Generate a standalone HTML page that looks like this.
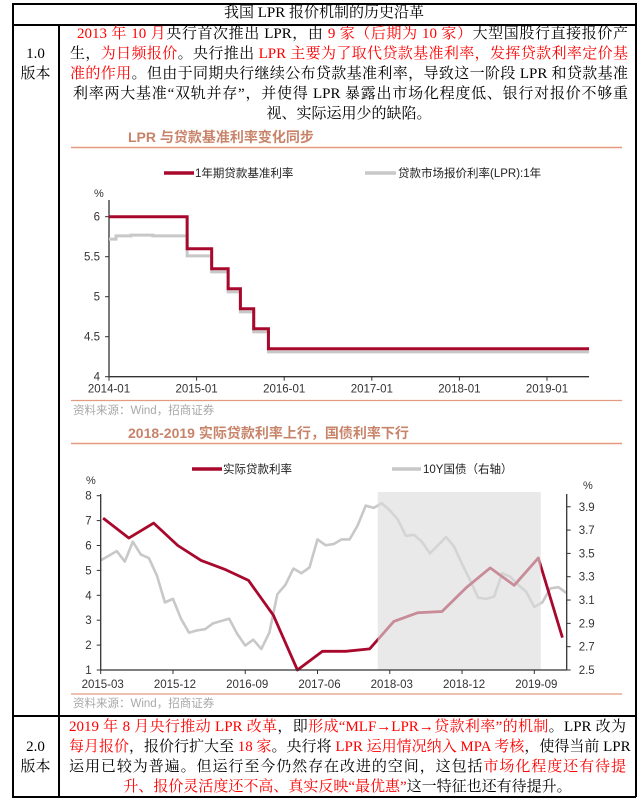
<!DOCTYPE html>
<html><head><meta charset="utf-8">
<style>
*{margin:0;padding:0;box-sizing:border-box}
body{width:644px;height:801px;background:#fff;position:relative;overflow:hidden;font-family:"Liberation Serif","Noto Serif CJK SC",serif;color:#000}
.abs{position:absolute}
.ln{position:absolute;height:20px;line-height:20px;font-size:15px;white-space:nowrap;text-align:justify;text-align-last:justify}
.r{color:#f00}
.hl{position:absolute;background:#000}
svg{position:absolute;left:0;top:0}
svg text{font-family:"Liberation Sans","Noto Sans CJK SC",sans-serif}
</style></head><body>
<!-- table frame -->
<div class="hl" style="left:12px;top:3px;width:624px;height:1.5px"></div>
<div class="hl" style="left:12px;top:3px;width:1.5px;height:794px"></div>
<div class="hl" style="left:635px;top:3px;width:1.5px;height:794px"></div>
<div class="hl" style="left:12px;top:796px;width:624px;height:1.5px"></div>
<div class="hl" style="left:12px;top:24px;width:624px;height:1.5px"></div>
<div class="hl" style="left:58px;top:24px;width:1.5px;height:773px"></div>
<div class="hl" style="left:12px;top:715px;width:624px;height:1.5px"></div>

<div class="abs" style="left:12px;top:3px;width:624px;height:21px;line-height:21px;text-align:center;font-size:15px">我国 LPR 报价机制的历史沿革</div>

<div class="abs" style="left:13px;top:44px;width:45px;text-align:center;font-size:15px;line-height:20px">1.0<br>版本</div>
<div class="abs" style="left:13px;top:737px;width:45px;text-align:center;font-size:15px;line-height:20px">2.0<br>版本</div>

<div>
<div class="ln" style="left:77px;top:24px;width:551px"><span class="r">2013 年 10 月</span>央行首次推出 LPR，由 <span class="r">9 家（后期为 10 家）</span>大型国股行直接报价产</div>
<div class="ln" style="left:70px;top:44px;width:558px">生，<span class="r">为日频报价</span>。央行推出 <span class="r">LPR 主要为了取代贷款基准利率，发挥贷款利率定价基</span></div>
<div class="ln" style="left:70px;top:64px;width:558px"><span class="r">准的作用</span>。但由于同期央行继续公布贷款基准利率，导致这一阶段 LPR 和贷款基准</div>
<div class="ln" style="left:73px;top:84px;width:555px">利率两大基准“双轨并存”，并使得 LPR 暴露出市场化程度低、银行对报价不够重</div>
<div class="ln" style="left:70px;top:104px;width:558px;text-align:center;text-align-last:center">视、实际运用少的缺陷。</div>
</div>

<div>
<div class="ln" style="left:69px;top:717px;width:557px"><span class="r">2019 年 8 月央行推动 LPR 改革</span>，即<span class="r">形成“MLF→LPR→贷款利率”的机制</span>。LPR 改为</div>
<div class="ln" style="left:69px;top:737px;width:557px"><span class="r">每月报价</span>，报价行扩大至 <span class="r">18 家</span>。央行将 <span class="r">LPR 运用情况纳入 MPA 考核</span>，使得当前 LPR</div>
<div class="ln" style="left:69px;top:757px;width:557px">运用已较为普遍。但运行至今仍然存在改进的空间，这包括<span class="r">市场化程度还有待提</span></div>
<div class="ln" style="left:69px;top:777px;width:557px;text-align:center;text-align-last:center"><span class="r">升、报价灵活度还不高、真实反映“最优惠”</span>这一特征也还有待提升。</div>
</div>

<svg id="chart" width="644" height="801">
  <!-- chart 1 header -->
  <text x="128" y="142" font-size="14" font-weight="bold" fill="#c8846a">LPR 与贷款基准利率变化同步</text>
  <line x1="71" y1="147.5" x2="622" y2="147.5" stroke="#e39a80" stroke-width="1.5"/>
  <line x1="164" y1="173" x2="194" y2="173" stroke="#a8082c" stroke-width="3.5"/>
  <text x="195" y="177" font-size="11.5" fill="#222">1年期贷款基准利率</text>
  <line x1="365" y1="173" x2="396" y2="173" stroke="#c8c8c8" stroke-width="3.5"/>
  <text x="398" y="177" font-size="11.5" fill="#222">贷款市场报价利率(LPR):1年</text>
  <text x="94" y="197" font-size="11" fill="#333">%</text>
  <g id="c1"></g>
  <line x1="71" y1="400.5" x2="622" y2="400.5" stroke="#e39a80" stroke-width="1.2"/>
  <text x="73" y="414" font-size="11.5" fill="#a8a8a8">资料来源：Wind，招商证券</text>

  <!-- chart 2 header -->
  <text x="128" y="438" font-size="14" font-weight="bold" fill="#c8846a">2018-2019 实际贷款利率上行，国债利率下行</text>
  <line x1="71" y1="443.5" x2="622" y2="443.5" stroke="#e39a80" stroke-width="1.5"/>
  <line x1="192" y1="469" x2="222" y2="469" stroke="#a8082c" stroke-width="3.5"/>
  <text x="223" y="473" font-size="11.5" fill="#222">实际贷款利率</text>
  <line x1="392" y1="469" x2="421" y2="469" stroke="#c8c8c8" stroke-width="3.5"/>
  <text x="423" y="473" font-size="11.5" fill="#222">10Y国债（右轴）</text>
  <text x="86" y="484" font-size="11" fill="#333">%</text>
  <text x="583" y="489" font-size="11" fill="#333">%</text>
  <g id="c2"></g>
  <line x1="71" y1="694" x2="622" y2="694" stroke="#e39a80" stroke-width="1.2"/>
  <text x="73" y="707" font-size="11.5" fill="#a8a8a8">资料来源：Wind，招商证券</text>
</svg>

<script>
// ---- Chart 1 data (years since 2014-01) ----
const c1XTicks = [0, 1, 2, 3, 4, 5];
const c1XTickLabels = ["2014-01", "2015-01", "2016-01", "2017-01", "2018-01", "2019-01"];
const c1YTicks = [4, 4.5, 5, 5.5, 6];
const c1YTickLabels = ["4", "4.5", "5", "5.5", "6"];
const c1End = 5.48;
const benchTimes = [0, 0.892, 1.172, 1.36, 1.5, 1.652, 1.82];
const benchVals = [6.0, 5.6, 5.35, 5.1, 4.85, 4.6, 4.35];
const lprTimes = [0, 0.08, 0.25, 0.5, 0.892, 1.172, 1.36, 1.5, 1.652, 1.82];
const lprVals = [5.72, 5.76, 5.77, 5.76, 5.51, 5.31, 5.06, 4.81, 4.56, 4.31];

// ---- Chart 2 data (months since 2015-03) ----
const c2XTicks = [0, 9, 18, 27, 36, 45, 54];
const c2XTickLabels = ["2015-03", "2015-12", "2016-09", "2017-06", "2018-03", "2018-12", "2019-09"];
const c2LeftTicks = [1, 2, 3, 4, 5, 6, 7, 8];
const c2RightTicks = [2.5, 2.7, 2.9, 3.1, 3.3, 3.5, 3.7, 3.9];
const c2RightTickLabels = ["2.5", "2.7", "2.9", "3.1", "3.3", "3.5", "3.7", "3.9"];
const loanMonths = [0.3, 3.5, 6.6, 9.6, 12.5, 15.4, 18.4, 21.5, 24.5, 27.6, 30.5, 33.5, 36.5, 39.5, 42.5, 45.5, 48.5, 51.5, 54.5, 57.5];
const loanVals = [7.1, 6.3, 6.9, 6.0, 5.4, 5.05, 4.6, 3.2, 1.0, 1.75, 1.75, 1.85, 2.95, 3.3, 3.35, 4.3, 5.1, 4.4, 5.5, 2.3];
const bondVals = [3.44,3.48,3.52,3.43,3.60,3.49,3.46,3.31,3.08,3.11,2.94,2.82,2.84,2.85,2.90,2.92,2.94,2.81,2.71,2.76,2.68,2.82,3.15,3.23,3.37,3.33,3.38,3.62,3.57,3.58,3.62,3.62,3.74,3.91,3.89,3.93,3.87,3.79,3.65,3.66,3.60,3.50,3.57,3.64,3.56,3.41,3.27,3.12,3.11,3.13,3.33,3.30,3.23,3.17,3.04,3.08,3.20,3.21,3.16];
const shadeStart = 34.5, shadeEnd = 54.8;

const NS = "http://www.w3.org/2000/svg";
function mk(parent, tag, attrs) {
  const e = document.createElementNS(NS, tag);
  for (const k in attrs) e.setAttribute(k, attrs[k]);
  parent.appendChild(e);
  return e;
}

// ---- Chart 1 ----
(function () {
  const g = document.getElementById("c1");
  const x = t => 109 + t * 87.6;
  const y = v => 376.7 - (v - 4) * 80;
  // axes
  let ax = mk(g, "line", {x1: x(0), y1: 200, x2: x(0), y2: y(4), stroke: "#333", "stroke-width": 1.3});
  
  
  ax = mk(g, "line", {x1: x(0), y1: y(4), x2: x(c1End), y2: y(4), stroke: "#333", "stroke-width": 1.3});
  
  
  c1YTicks.forEach((v, i) => {
    const tk = mk(g, "line", {x1: x(0) - 4, y1: y(v), x2: x(0), y2: y(v), stroke: "#333", "stroke-width": 1});
    
    
    const t = mk(g, "text", {x: x(0) - 9, y: y(v) + 4, "font-size": 11.5, fill: "#333", "text-anchor": "end"});
    t.textContent = c1YTickLabels[i];
    
    
  });
  c1XTicks.forEach((v, i) => {
    const tk = mk(g, "line", {x1: x(v), y1: y(4), x2: x(v), y2: y(4) + 4, stroke: "#333", "stroke-width": 1});
    
    
    const t = mk(g, "text", {x: x(v), y: y(4) + 16, "font-size": 11.5, fill: "#333", "text-anchor": "middle"});
    t.textContent = c1XTickLabels[i];
    
    
  });
  function stepPath(times, vals) {
    let d = "";
    for (let i = 0; i < times.length; i++) {
      const x0 = x(times[i]);
      const x1 = x(i + 1 < times.length ? times[i + 1] : c1End);
      d += (i === 0 ? "M" : "L") + x0 + "," + y(vals[i]) + "L" + x1 + "," + y(vals[i]);
    }
    return d;
  }
  const lp = mk(g, "path", {d: stepPath(lprTimes, lprVals), fill: "none", stroke: "#c8c8c8", "stroke-width": 3});
  
  
  const bp = mk(g, "path", {d: stepPath(benchTimes, benchVals), fill: "none", stroke: "#a8082c", "stroke-width": 3});
  
  
})();

// ---- Chart 2 ----
(function () {
  const g = document.getElementById("c2");
  const x = m => 100.7 + m * 8.03;
  const yl = v => 670 - (v - 1) * 24.9;
  const yr = v => 670 - (v - 2.5) * 116.6;
  const xEnd = 566.7;
  const bd = bondVals.map((v, i) => (i ? "L" : "M") + x(i) + "," + yr(v)).join("");
  const bp = mk(g, "path", {d: bd, fill: "none", stroke: "#c8c8c8", "stroke-width": 2.6, "stroke-linejoin": "round"});
  
  
  const ld = loanVals.map((v, i) => (i ? "L" : "M") + x(loanMonths[i]) + "," + yl(v)).join("");
  const lp = mk(g, "path", {d: ld, fill: "none", stroke: "#a8082c", "stroke-width": 2.8, "stroke-linejoin": "round"});
  
  
  const sh = mk(g, "rect", {x: x(shadeStart), y: 492, width: x(shadeEnd) - x(shadeStart), height: 670 - 492, fill: "#dcdcdc", "fill-opacity": 0.62});
  
  
  // axes
  let ax = mk(g, "line", {x1: x(0), y1: 494, x2: x(0), y2: 670, stroke: "#333", "stroke-width": 1.3});
  
  
  ax = mk(g, "line", {x1: xEnd, y1: 494, x2: xEnd, y2: 670, stroke: "#333", "stroke-width": 1.3});
  
  
  ax = mk(g, "line", {x1: x(0), y1: 670, x2: xEnd, y2: 670, stroke: "#333", "stroke-width": 1.3});
  
  
  c2LeftTicks.forEach(v => {
    const tk = mk(g, "line", {x1: x(0) - 4, y1: yl(v), x2: x(0), y2: yl(v), stroke: "#333", "stroke-width": 1});
    
    
    const t = mk(g, "text", {x: x(0) - 9, y: yl(v) + 4, "font-size": 11.5, fill: "#333", "text-anchor": "end"});
    t.textContent = String(v);
    
    
  });
  c2RightTicks.forEach((v, i) => {
    const tk = mk(g, "line", {x1: xEnd, y1: yr(v), x2: xEnd + 4, y2: yr(v), stroke: "#333", "stroke-width": 1});
    
    
    const t = mk(g, "text", {x: xEnd + 12, y: yr(v) + 4, "font-size": 11.5, fill: "#333"});
    t.textContent = c2RightTickLabels[i];
    
    
  });
  c2XTicks.forEach((v, i) => {
    const tk = mk(g, "line", {x1: x(v), y1: 670, x2: x(v), y2: 674, stroke: "#333", "stroke-width": 1});
    
    
    const t = mk(g, "text", {x: x(v) + 2, y: 688, "font-size": 11.5, fill: "#333", "text-anchor": "middle"});
    t.textContent = c2XTickLabels[i];
    
    
  });
})();
</script>
</body></html>
